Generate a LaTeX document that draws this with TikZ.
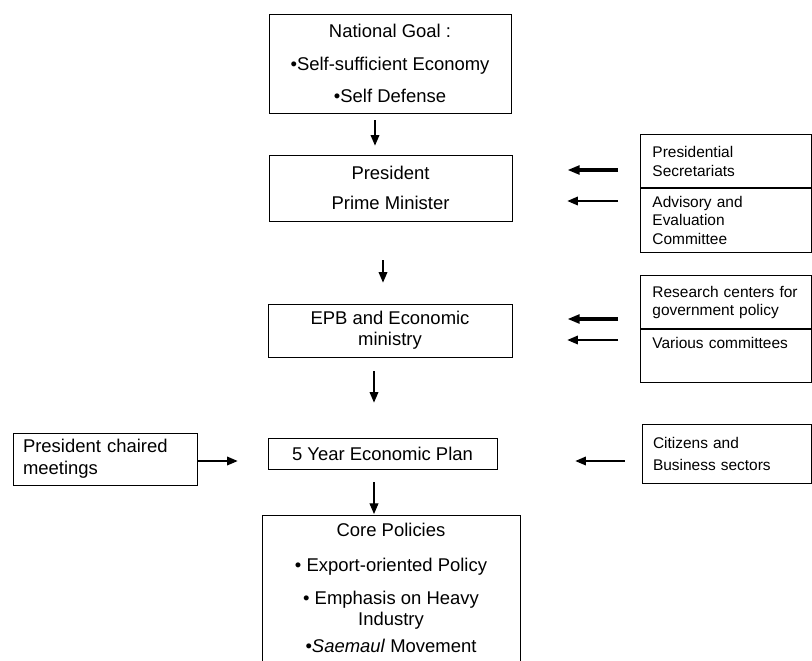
\documentclass[tikz,border=0pt]{standalone}
\usepackage{fontspec}
\setmainfont{Liberation Sans}
\usepackage{xcolor}
\usepackage{tikz}
\usetikzlibrary{arrows.meta,positioning}
\definecolor{boxink}{HTML}{000000}

\begin{document}
\begin{tikzpicture}[x=0.02cm,y=-0.02cm,
    mainbox/.style={draw=boxink,line width=0.5pt,align=center,inner sep=0pt,
      font=\fontsize{10.5}{12}\selectfont},
    notebox/.style={draw=boxink,line width=0.5pt,align=left,inner ysep=0pt,
      font=\fontsize{10.5}{12}\selectfont},
    sidebox/.style={draw=boxink,line width=0.5pt,align=left,anchor=north west,
      inner xsep=0.24cm,inner ysep=0pt,text width=2.94cm,minimum width=3.42cm,
      font=\fontsize{8.8}{10.6}\selectfont},
    arr/.style={-{Triangle[length=6pt,width=5pt]},line width=0.6pt,draw=boxink},
    thickarr/.style={-{Triangle[length=7pt,width=5pt]},line width=2.2pt,draw=boxink}]
  \useasboundingbox (0,0) rectangle (812,660);
  \clip (0,0) rectangle (812,660);

  % centre column
  \node[mainbox,minimum width=4.84cm,minimum height=1.98cm] (goal) at (390,63.5)
    {National Goal :\\[6.7pt]\textbullet Self-sufficient Economy\\[6.1pt]\textbullet Self Defense};
  \node[mainbox,minimum width=4.86cm,minimum height=1.32cm] (pres) at (390.5,188)
    {President\\[5pt]Prime Minister};
  \node[mainbox,minimum width=4.88cm,minimum height=1.06cm] (epb) at (390,330.5)
    {EPB and Economic\\ministry};
  \node[mainbox,minimum width=4.58cm,minimum height=0.62cm] (plan) at (382.5,453.5)
    {5 Year Economic Plan};
  \node[mainbox,minimum width=5.16cm,inner ysep=0.16cm,anchor=north] (core) at (391,515)
    {Core Policies\\[7.8pt]\textbullet{} Export-oriented Policy\\[6.7pt]\textbullet{} Emphasis on Heavy\\Industry\\[3.3pt]\textbullet\textit{Saemaul} Movement\\[2pt]\mbox{}};

  % side boxes
  \node[sidebox,minimum height=1.08cm] (sec) at (640,134) {Presidential\\Secretariats};
  \node[sidebox,minimum height=1.28cm] (adv) at (640,188) {Advisory and\\Evaluation\\Committee};
  \node[sidebox,minimum height=1.08cm] (res) at (640,275) {Research centers for\\government policy};
  \node[sidebox,minimum height=1.06cm,text depth=0.54cm] (var) at (640,329) {Various committees};
  \draw[boxink,line width=1.2pt] (adv.north west) -- (adv.north east);
  \draw[boxink,line width=1.2pt] (var.north west) -- (var.north east);

  \node[notebox,text width=2.94cm,inner xsep=0.22cm,minimum width=3.38cm,minimum height=1.18cm,
    font=\fontsize{8.8}{10.6}\selectfont] (cit) at (726.5,453.5)
    {Citizens and\\[1.9pt]Business sectors};
  \node[notebox,text width=3.28cm,inner xsep=0.2cm,minimum width=3.68cm,minimum height=1.04cm] (chair) at (105,459)
    {President chaired\\[0.5pt]meetings};

  % arrow columns and rows
  \coordinate (colA) at (375,0);
  \coordinate (colB) at (383,0);
  \coordinate (colC) at (374,0);
  \coordinate (rowA) at (0,170);
  \coordinate (rowB) at (0,201);
  \coordinate (rowC) at (0,319);
  \coordinate (rowD) at (0,340);
  \coordinate (rowE) at (0,461);

  \draw[arr,shorten <=0.14cm,shorten >=0.18cm] (goal.south -| colA) -- (pres.north -| colA);
  \draw[arr,shorten <=0.78cm,shorten >=0.42cm] (pres.south -| colB) -- (epb.north -| colB);
  \draw[arr,shorten <=0.28cm,shorten >=0.7cm] (epb.south -| colC) -- (plan.north -| colC);
  \draw[arr,shorten <=0.26cm,shorten >=0.02cm] (plan.south -| colC) -- (core.north -| colC);

  \draw[thickarr,shorten <=0.44cm,shorten >=1.1cm] (sec.west |- rowA) -- (pres.east |- rowA);
  \draw[arr,shorten <=0.44cm,shorten >=1.1cm] (adv.west |- rowB) -- (pres.east |- rowB);
  \draw[thickarr,shorten <=0.44cm,shorten >=1.1cm] (res.west |- rowC) -- (epb.east |- rowC);
  \draw[arr,shorten <=0.44cm,shorten >=1.1cm] (var.west |- rowD) -- (epb.east |- rowD);

  \draw[arr,shorten >=0.6cm] (chair.east |- rowE) -- (plan.west |- rowE);
  \draw[arr,shorten <=0.34cm,shorten >=1.56cm] (cit.west |- rowE) -- (plan.east |- rowE);
\end{tikzpicture}
\end{document}
